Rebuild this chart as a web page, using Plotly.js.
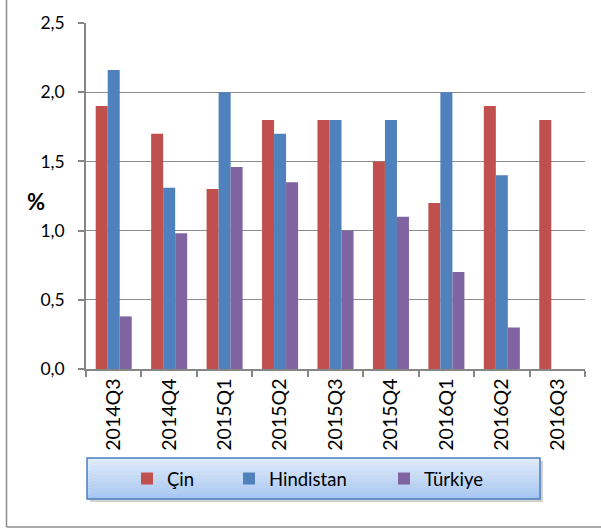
<!DOCTYPE html>
<html>
<head>
<meta charset="utf-8">
<script src="https://cdn.plot.ly/plotly-3.0.1.min.js"></script>
<style>
  html, body { margin: 0; padding: 0; background: #fff; }
  #chart { width: 601px; height: 530px; }
</style>
</head>
<body>
<div id="chart"></div>
<script>
const categories = ['2014Q3','2014Q4','2015Q1','2015Q2','2015Q3','2015Q4','2016Q1','2016Q2','2016Q3'];
const seriesNames = ['Çin', 'Hindistan', 'Türkiye'];
const cin       = [1.9, 1.7, 1.3, 1.8, 1.8, 1.5, 1.2, 1.9, 1.8];
const hindistan = [2.16, 1.31, 2.0, 1.7, 1.8, 1.8, 2.0, 1.4, null];
const turkiye   = [0.38, 0.98, 1.46, 1.35, 1.0, 1.1, 0.7, 0.3, null];
const yTicks = [0, 0.5, 1.0, 1.5, 2.0, 2.5];

const colors = ['#C0504D', '#4F81BD', '#8064A2'];
const FONT = 'Lato, "Open Sans", sans-serif';

// plot-area geometry (pixels)
const W = 601, H = 530;
const mL = 86, mR = 16, mT = 23, mB = 161;
const pw = W - mL - mR, ph = H - mT - mB;
const px = x => (x - mL) / pw;
const py = y => (H - mB - y) / ph;

const values = [cin, hindistan, turkiye];
const legendIds = ['legend', 'legend2', 'legend3'];
const traces = values.map((v, i) => ({
  type: 'bar',
  name: seriesNames[i],
  x: categories,
  y: v,
  marker: { color: colors[i], line: { width: 0 } },
  legend: legendIds[i],
  hoverinfo: 'x+y+name'
}));

// legend box with vertical gradient + shadow
const shapes = [];
const bx0 = 87, bx1 = 540, by0 = 458, by1 = 499;
shapes.push({ type: 'rect', xref: 'paper', yref: 'paper',
  x0: px(bx0 + 3), x1: px(bx1 + 3), y0: py(by1 + 3), y1: py(by0 + 3),
  fillcolor: 'rgba(0,0,0,0.18)', line: { width: 0 } });
const gradTop = [224, 236, 252], gradBot = [166, 199, 244];
const N = 14;
for (let k = 0; k < N; k++) {
  const t = k / (N - 1);
  const c = gradTop.map((a, j) => Math.round(a + (gradBot[j] - a) * t));
  shapes.push({ type: 'rect', xref: 'paper', yref: 'paper',
    x0: px(bx0), x1: px(bx1),
    y0: py(by0 + (by1 - by0) * (k + 1) / N), y1: py(by0 + (by1 - by0) * k / N),
    fillcolor: 'rgb(' + c.join(',') + ')', line: { width: 0 } });
}
shapes.push({ type: 'rect', xref: 'paper', yref: 'paper',
  x0: px(bx0), x1: px(bx1), y0: py(by1), y1: py(by0),
  fillcolor: 'rgba(0,0,0,0)', line: { color: '#4A7EBB', width: 1.5 } });
// outer chart frame (left & bottom visible)
shapes.push({ type: 'line', xref: 'paper', yref: 'paper',
  x0: px(6.5), x1: px(6.5), y0: py(527), y1: py(-5), line: { color: '#8C8C8C', width: 1.5 } });
shapes.push({ type: 'line', xref: 'paper', yref: 'paper',
  x0: px(6.5), x1: px(606), y0: py(527), y1: py(527), line: { color: '#8C8C8C', width: 1.5 } });

const legendX = [127, 229, 384];
const legendCommon = {
  orientation: 'h', bgcolor: 'rgba(0,0,0,0)', borderwidth: 0,
  yanchor: 'middle', xanchor: 'left', y: py(479),
  font: { family: FONT, size: 18.5, color: '#000' }, itemclick: false, itemdoubleclick: false
};

const layout = {
  width: W, height: H,
  margin: { l: mL, r: mR, t: mT, b: mB, pad: 0 },
  paper_bgcolor: '#fff', plot_bgcolor: '#fff',
  separators: ',.',
  barmode: 'group', bargap: 0.35, bargroupgap: 0,
  font: { family: FONT, size: 17, color: '#000' },
  showlegend: true,
  legend:  Object.assign({}, legendCommon, { x: px(legendX[0]) }),
  legend2: Object.assign({}, legendCommon, { x: px(legendX[1]) }),
  legend3: Object.assign({}, legendCommon, { x: px(legendX[2]) }),
  xaxis: {
    type: 'category', categoryorder: 'array', categoryarray: categories,
    range: [-0.5, categories.length - 0.5],
    showline: true, linecolor: '#868686', linewidth: 1.5,
    ticks: 'outside', tickson: 'boundaries', ticklen: 6, tickcolor: '#868686', tickwidth: 1.5,
    tickangle: -90, tickfont: { family: FONT, size: 19.5, color: '#000' },
    showgrid: false, zeroline: false, fixedrange: true
  },
  yaxis: {
    range: [0, 2.5], tickvals: yTicks, tickformat: '.1f',
    showline: true, linecolor: '#868686', linewidth: 1.5,
    ticks: 'outside', ticklen: 6, tickcolor: '#868686', tickwidth: 1.5,
    ticklabelstandoff: 10,
    showgrid: true, gridcolor: '#8C8C8C', gridwidth: 1.2,
    zeroline: false, tickfont: { family: FONT, size: 17.5, color: '#000' }, fixedrange: true
  },
  annotations: [{
    text: '<b>%</b>', xref: 'paper', yref: 'paper', x: px(36), y: py(201),
    xanchor: 'center', yanchor: 'middle', showarrow: false,
    font: { family: FONT, size: 22, color: '#000' }
  }],
  shapes: shapes
};

Plotly.newPlot('chart', traces, layout, { displayModeBar: false });
</script>
</body>
</html>
